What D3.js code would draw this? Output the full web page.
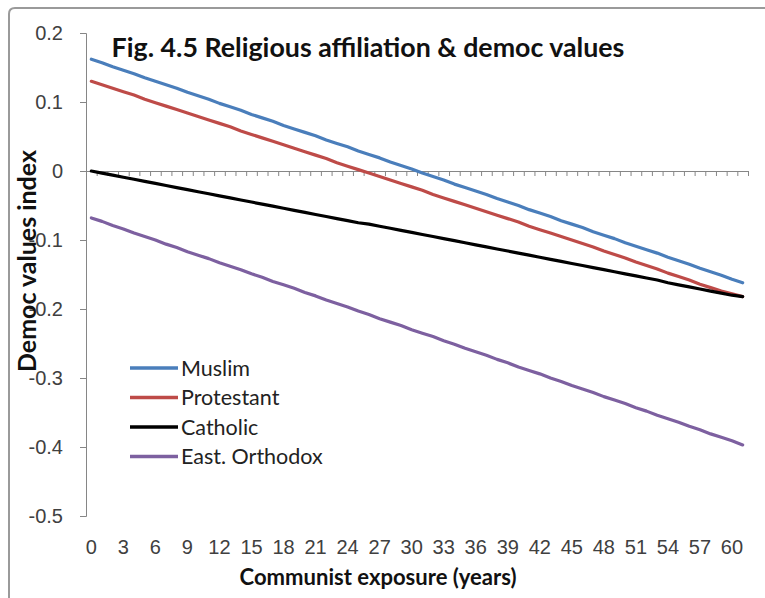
<!DOCTYPE html>
<html>
<head>
<meta charset="utf-8">
<script src="https://cdn.jsdelivr.net/npm/d3@7"></script>
<style>
  html, body { margin: 0; padding: 0; background: #fff; }
  svg { display: block; font-family: Lato, "Open Sans", sans-serif; }
  .axis path, .axis line { stroke: #868686; }
  .axis text { fill: #404040; }
</style>
</head>
<body>
<div id="chart"></div>
<script>
const years = d3.range(0, 62);
const yTicks = [0.2, 0.1, 0, -0.1, -0.2, -0.3, -0.4, -0.5];
const xLabelYears = d3.range(0, 61, 3);

const muslim = [
  0.162, 0.157, 0.151, 0.146, 0.141, 0.135, 0.130, 0.125, 0.120, 0.114,
  0.109, 0.104, 0.098, 0.093, 0.088, 0.082, 0.077, 0.072, 0.066, 0.061,
  0.056, 0.051, 0.045, 0.040, 0.035, 0.029, 0.024, 0.019, 0.013, 0.008,
  0.003, -0.003, -0.008, -0.013, -0.019, -0.024, -0.029, -0.034, -0.040, -0.045,
  -0.050, -0.056, -0.061, -0.066, -0.072, -0.077, -0.082, -0.088, -0.093, -0.098,
  -0.104, -0.109, -0.114, -0.119, -0.125, -0.130, -0.135, -0.141, -0.146, -0.151,
  -0.157, -0.162
];
const protestant = [
  0.130, 0.125, 0.120, 0.115, 0.110, 0.104, 0.099, 0.094, 0.089, 0.084,
  0.079, 0.074, 0.069, 0.064, 0.058, 0.053, 0.048, 0.043, 0.038, 0.033,
  0.028, 0.023, 0.018, 0.012, 0.007, 0.002, -0.003, -0.008, -0.013, -0.018,
  -0.023, -0.028, -0.034, -0.039, -0.044, -0.049, -0.054, -0.059, -0.064, -0.069,
  -0.074, -0.080, -0.085, -0.090, -0.095, -0.100, -0.105, -0.110, -0.116, -0.121,
  -0.126, -0.132, -0.137, -0.142, -0.148, -0.153, -0.158, -0.164, -0.169, -0.174,
  -0.178, -0.182
];
const catholic = [
  0.000, -0.003, -0.006, -0.009, -0.012, -0.015, -0.018, -0.021, -0.024, -0.027,
  -0.030, -0.033, -0.036, -0.039, -0.042, -0.045, -0.048, -0.051, -0.054, -0.057,
  -0.060, -0.063, -0.066, -0.069, -0.072, -0.075, -0.077, -0.080, -0.083, -0.086,
  -0.089, -0.092, -0.095, -0.098, -0.101, -0.104, -0.107, -0.110, -0.113, -0.116,
  -0.119, -0.122, -0.125, -0.128, -0.131, -0.134, -0.137, -0.140, -0.143, -0.146,
  -0.149, -0.152, -0.155, -0.158, -0.162, -0.165, -0.168, -0.171, -0.174, -0.177,
  -0.180, -0.182
];
const orthodox = [
  -0.068, -0.073, -0.079, -0.084, -0.090, -0.095, -0.100, -0.106, -0.111, -0.117,
  -0.122, -0.127, -0.133, -0.138, -0.143, -0.149, -0.154, -0.160, -0.165, -0.170,
  -0.176, -0.181, -0.187, -0.192, -0.197, -0.203, -0.208, -0.214, -0.219, -0.224,
  -0.230, -0.235, -0.240, -0.246, -0.251, -0.257, -0.262, -0.267, -0.273, -0.278,
  -0.284, -0.289, -0.294, -0.300, -0.305, -0.311, -0.316, -0.321, -0.327, -0.332,
  -0.337, -0.343, -0.348, -0.354, -0.359, -0.364, -0.370, -0.375, -0.381, -0.386,
  -0.391, -0.397
];

const seriesNames = ["Muslim", "Protestant", "Catholic", "East. Orthodox"];
const seriesValues = [muslim, protestant, catholic, orthodox];
const seriesColors = ["#4a7ebb", "#be4b48", "#000000", "#7d60a0"];

const W = 765, H = 598;
const plot = { left: 86, right: 748, top: 33, bottom: 516 };

const svg = d3.select("#chart").append("svg")
  .attr("width", W)
  .attr("height", H);

// frame (only top and left edges show)
svg.append("path")
  .attr("d", `M9,${H} L9,14 Q9,8 15,8 L${W},8`)
  .attr("fill", "none")
  .attr("stroke", "#9a9a9a")
  .attr("stroke-width", 2);

const y = d3.scaleLinear().domain([-0.5, 0.2]).range([plot.bottom, plot.top]);
const x = d3.scaleBand().domain(years).range([plot.left, plot.right]);
const xEdge = d3.scaleLinear().domain([0, years.length]).range([plot.left, plot.right]);

// Y axis
const yAxis = svg.append("g")
  .attr("class", "axis")
  .attr("transform", `translate(${plot.left},0)`)
  .call(d3.axisLeft(y).tickValues(yTicks).tickSize(6).tickSizeOuter(6).tickPadding(17)
    .tickFormat(d => d === 0 ? "0" : d.toFixed(1)));
yAxis.selectAll("text").attr("font-size", "20px");

// X axis line at zero, tick marks between categories
svg.append("g")
  .attr("class", "axis")
  .attr("transform", `translate(0,${y(0)})`)
  .call(d3.axisBottom(xEdge).tickValues(d3.range(0, years.length + 1)).tickSize(5).tickSizeOuter(0).tickFormat(""));

// X labels along the bottom
const xLab = svg.append("g")
  .attr("class", "axis")
  .attr("transform", `translate(0,${plot.bottom})`)
  .call(d3.axisBottom(x).tickValues(xLabelYears).tickSize(0));
xLab.select(".domain").remove();
xLab.selectAll("text")
  .attr("font-size", "20px")
  .attr("dy", null)
  .attr("y", 38);

// Lines
const line = d3.line()
  .x((d, i) => x(years[i]) + x.bandwidth() / 2)
  .y(d => y(d));

svg.append("g")
  .selectAll("path")
  .data(seriesValues)
  .enter()
  .append("path")
  .attr("d", d => line(d))
  .attr("fill", "none")
  .attr("stroke", (d, i) => seriesColors[i])
  .attr("stroke-width", 3.2)
  .attr("stroke-linejoin", "round")
  .attr("stroke-linecap", "round");

// Legend
const legend = svg.append("g").attr("transform", "translate(130,368)");
seriesNames.forEach((name, i) => {
  const g = legend.append("g").attr("transform", `translate(0,${i * 29.5})`);
  g.append("line")
    .attr("x1", 0).attr("x2", 48)
    .attr("stroke", seriesColors[i])
    .attr("stroke-width", 3.5);
  g.append("text")
    .attr("x", 51)
    .attr("dy", "0.36em")
    .attr("font-size", "21.5px")
    .attr("fill", "#222")
    .text(name);
});

// scale a text's font so it spans a measured width
function fitText(sel, width) {
  const len = sel.node().getComputedTextLength();
  const fs = parseFloat(sel.attr("font-size"));
  sel.attr("font-size", (fs * width / len).toFixed(2) + "px");
}

const title = svg.append("text")
  .attr("x", 368).attr("y", 57)
  .attr("text-anchor", "middle")
  .attr("font-weight", "bold")
  .attr("font-size", "22px")
  .attr("fill", "#111")
  .text("Fig. 4.5 Religious affiliation & democ values");
fitText(title, 513);

const xTitle = svg.append("text")
  .attr("x", 378).attr("y", 585)
  .attr("text-anchor", "middle")
  .attr("font-weight", "bold")
  .attr("font-size", "19px")
  .attr("fill", "#111")
  .text("Communist exposure (years)");
fitText(xTitle, 277);

const yTitle = svg.append("text")
  .attr("transform", "translate(36,261) rotate(-90)")
  .attr("text-anchor", "middle")
  .attr("font-weight", "bold")
  .attr("font-size", "19px")
  .attr("fill", "#111")
  .text("Democ values index");
fitText(yTitle, 222);
</script>
</body>
</html>
